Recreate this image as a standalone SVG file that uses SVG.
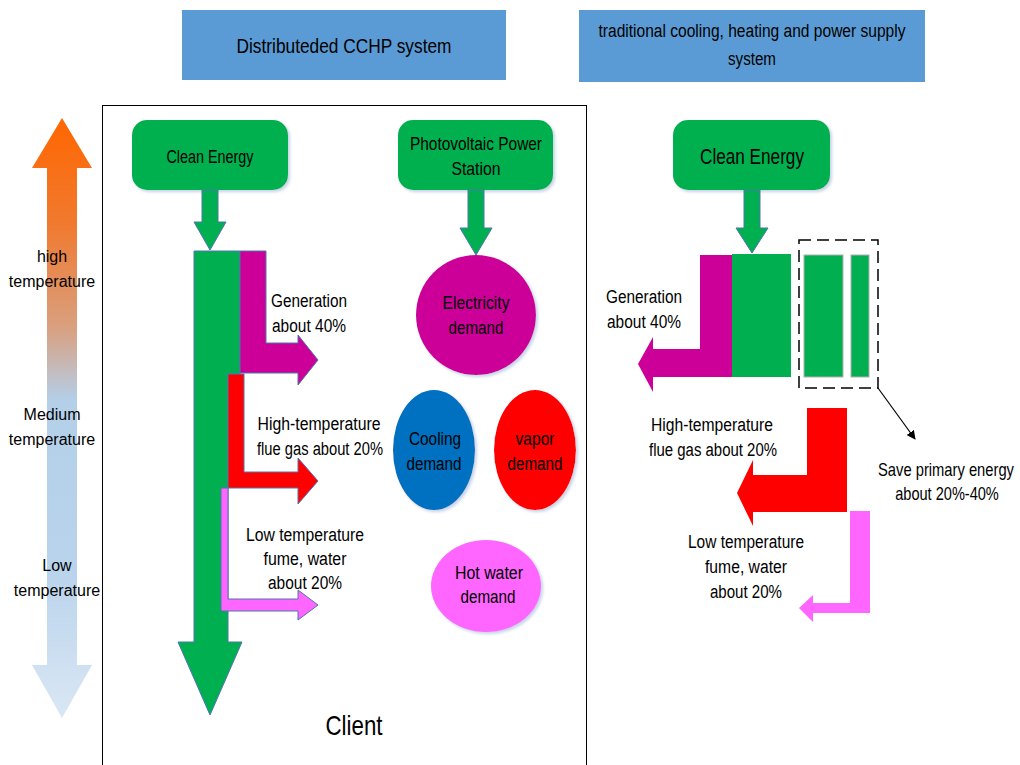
<svg xmlns="http://www.w3.org/2000/svg" width="1020" height="765" viewBox="0 0 1020 765">
<defs>
<linearGradient id="tempGrad" x1="0" y1="118" x2="0" y2="718" gradientUnits="userSpaceOnUse">
<stop offset="0" stop-color="#ff6600"/>
<stop offset="0.18" stop-color="#f07a30"/>
<stop offset="0.35" stop-color="#d9a080"/>
<stop offset="0.47" stop-color="#b4cfe8"/>
<stop offset="0.75" stop-color="#b9d3ec"/>
<stop offset="1" stop-color="#dae7f4"/>
</linearGradient>
<filter id="sh" x="-10%" y="-10%" width="130%" height="130%">
<feDropShadow dx="2" dy="2" stdDeviation="1.5" flood-color="#9fb6d6" flood-opacity="0.6"/>
</filter>
<marker id="arr" viewBox="0 0 10 10" refX="9" refY="5" markerWidth="9" markerHeight="9" orient="auto" markerUnits="userSpaceOnUse">
<path d="M0,0 L10,5 L0,10 z" fill="#000"/>
</marker>
</defs>
<style>
.hdr{fill:#5b9bd5;}
.box{fill:#00b050;filter:url(#sh);}
.g{fill:#00b050;}
.ol{stroke:#4f74b0;stroke-width:1;}
.t{font-family:"Liberation Sans",Arial,sans-serif;font-size:18px;fill:#000;text-anchor:middle;}
.ta{font-family:"Liberation Sans",Arial,sans-serif;font-size:16px;fill:#000;text-anchor:middle;}
</style>
<rect width="1020" height="765" fill="#fff"/>

<g id="header-left"><rect class="hdr" x="182" y="10" width="324" height="70"/><text class="t" x="344" y="53" style="font-size:21px" textLength="215" lengthAdjust="spacingAndGlyphs">Distributeded CCHP system</text></g>
<g id="header-right"><rect class="hdr" x="579" y="10" width="346" height="72"/><text class="t" x="752" y="37" textLength="307" lengthAdjust="spacingAndGlyphs">traditional cooling, heating and power supply</text><text class="t" x="752" y="65" textLength="48" lengthAdjust="spacingAndGlyphs">system</text></g>

<g id="frame"><rect x="102.5" y="105.5" width="484" height="680" fill="none" stroke="#000" stroke-width="1"/></g>

<g id="temperature-scale">
<polygon points="62,118 92,168 77,168 77,665 92,665 62,718 32,665 47,665 47,168 32,168" fill="url(#tempGrad)"/>
<text class="ta" x="52" y="262">high</text><text class="ta" x="52" y="287">temperature</text>
<text class="ta" x="52" y="420">Medium</text><text class="ta" x="52" y="445">temperature</text>
<text class="ta" x="57" y="571">Low</text><text class="ta" x="57" y="596">temperature</text>
</g>

<g id="clean-energy-left"><rect class="box" x="132" y="120" width="156" height="70" rx="15"/><text class="t" x="210" y="163" textLength="87" lengthAdjust="spacingAndGlyphs">Clean Energy</text></g>
<g id="pv-station"><rect class="box" x="398" y="120" width="155" height="70" rx="15"/><text class="t" x="476" y="150" textLength="132" lengthAdjust="spacingAndGlyphs">Photovoltaic Power</text><text class="t" x="476" y="175" textLength="49" lengthAdjust="spacingAndGlyphs">Station</text></g>
<g id="clean-energy-right"><rect class="box" x="673" y="120" width="157" height="70" rx="15"/><text class="t" x="752" y="164" style="font-size:22px" textLength="104" lengthAdjust="spacingAndGlyphs">Clean Energy</text></g>

<g id="connectors">
<polygon class="g ol" points="202,190 218,190 218,222 226,222 210,250 194,222 202,222"/>
<polygon class="g ol" points="468,190 484,190 484,228 492,228 476,255 460,228 468,228"/>
<polygon class="g ol" points="744,190 760,190 760,228 768,228 752,253 736,228 744,228"/>
</g>

<g id="cchp-flow">
<polygon class="g ol" points="194,251 240,251 240,374 228,374 228,642 242,642 210,715 178,642 194,642"/>
<polygon fill="#cc0099" class="ol" points="240,251 266,251 266,343 298,343 298,335 318,360 298,385 298,373 240,373"/>
<polygon fill="#ff0000" class="ol" points="228,374 244,374 244,472 298,472 298,458 318,481 298,504 298,488 228,488"/>
<polygon fill="#ff66ff" class="ol" points="221,488 228,488 228,599 298,599 298,590 318,605 298,620 298,611 221,611"/>
<text class="t" x="309" y="307" textLength="76" lengthAdjust="spacingAndGlyphs">Generation</text><text class="t" x="309" y="332" textLength="74" lengthAdjust="spacingAndGlyphs">about 40%</text>
<text class="t" x="319" y="430" textLength="123" lengthAdjust="spacingAndGlyphs">High-temperature</text><text class="t" x="320" y="455" textLength="126" lengthAdjust="spacingAndGlyphs">flue gas about 20%</text>
<text class="t" x="305" y="541" textLength="118" lengthAdjust="spacingAndGlyphs">Low temperature</text><text class="t" x="305" y="565" textLength="83" lengthAdjust="spacingAndGlyphs">fume, water</text><text class="t" x="305" y="589" textLength="74" lengthAdjust="spacingAndGlyphs">about 20%</text>
</g>

<g id="electricity-demand"><ellipse cx="476" cy="315" rx="60" ry="60" fill="#cc0099" filter="url(#sh)"/><text class="t" x="476" y="309" textLength="67" lengthAdjust="spacingAndGlyphs">Electricity</text><text class="t" x="476" y="334" textLength="55" lengthAdjust="spacingAndGlyphs">demand</text></g>
<g id="cooling-demand"><ellipse cx="434" cy="450" rx="41" ry="60" fill="#0070c0" filter="url(#sh)"/><text class="t" x="435" y="445" textLength="52" lengthAdjust="spacingAndGlyphs">Cooling</text><text class="t" x="434" y="470" textLength="55" lengthAdjust="spacingAndGlyphs">demand</text></g>
<g id="vapor-demand"><ellipse cx="535" cy="450" rx="41" ry="60" fill="#ff0000" filter="url(#sh)"/><text class="t" x="535" y="445" textLength="39" lengthAdjust="spacingAndGlyphs">vapor</text><text class="t" x="535" y="470" textLength="55" lengthAdjust="spacingAndGlyphs">demand</text></g>
<g id="hot-water-demand"><ellipse cx="486" cy="586" rx="55" ry="46" fill="#ff66ff" filter="url(#sh)"/><text class="t" x="489" y="579" textLength="68" lengthAdjust="spacingAndGlyphs">Hot water</text><text class="t" x="488" y="603" textLength="55" lengthAdjust="spacingAndGlyphs">demand</text></g>

<g id="client"><text class="t" x="354" y="735" style="font-size:28px" textLength="57" lengthAdjust="spacingAndGlyphs">Client</text></g>

<g id="traditional-flow">
<polygon fill="#cc0099" points="700,255 732,255 732,377 653,377 653,392 638,364 653,337 653,349 700,349"/>
<rect class="g" x="732" y="254" width="59" height="123"/>
<rect x="799" y="240" width="79" height="148" fill="none" stroke="#000" stroke-width="1.5" stroke-dasharray="12,6"/>
<rect class="g" x="804" y="255" width="39" height="122" stroke="#b0b0b0" stroke-width="1"/>
<rect class="g" x="851" y="255" width="18" height="122" stroke="#b0b0b0" stroke-width="1"/>
<polygon fill="#ff0000" points="807,408 847,408 847,512 753,512 753,526 737,493 753,460 753,475 807,475"/>
<polygon fill="#ff66ff" points="850,511 870,511 870,613 813,613 813,622 799,608 813,595 813,603 850,603"/>
<line x1="878" y1="388" x2="915" y2="439" stroke="#000" stroke-width="1.2" marker-end="url(#arr)"/>
<text class="t" x="644" y="303" textLength="76" lengthAdjust="spacingAndGlyphs">Generation</text><text class="t" x="644" y="328" textLength="74" lengthAdjust="spacingAndGlyphs">about 40%</text>
<text class="t" x="712" y="431" textLength="122" lengthAdjust="spacingAndGlyphs">High-temperature</text><text class="t" x="713" y="456" textLength="128" lengthAdjust="spacingAndGlyphs">flue gas about 20%</text>
<text class="t" x="746" y="548" textLength="116" lengthAdjust="spacingAndGlyphs">Low temperature</text><text class="t" x="746" y="573" textLength="82" lengthAdjust="spacingAndGlyphs">fume, water</text><text class="t" x="746" y="598" textLength="72" lengthAdjust="spacingAndGlyphs">about 20%</text>
<text class="t" transform="translate(946,476) scale(0.82,1)">Save primary energy</text><text class="t" transform="translate(947,500) scale(0.81,1)">about 20%-40%</text>
</g>
</svg>
